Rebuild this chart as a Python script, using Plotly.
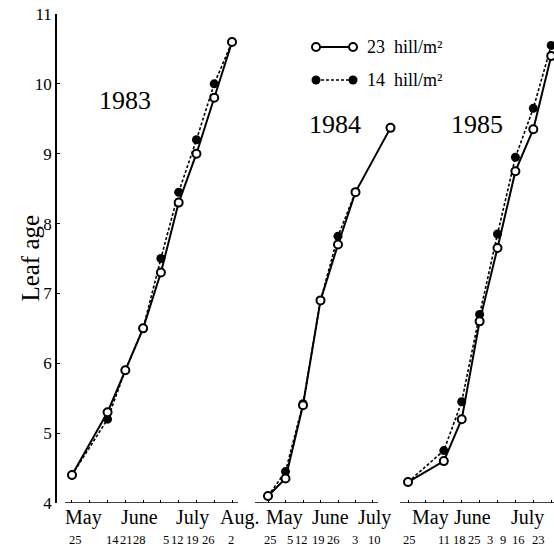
import plotly.graph_objects as go

# ---------------- data (x = weekly tick index of each panel) ----------------
years = ["1983", "1984", "1985"]

weeks_1983 = [0, 2, 3, 4, 5, 6, 7, 8, 9]
open_1983 = [4.4, 5.3, 5.9, 6.5, 7.3, 8.3, 9.0, 9.8, 10.6]
filled_1983 = [4.4, 5.2, 5.9, 6.5, 7.5, 8.45, 9.2, 10.0, 10.6]

weeks_1984 = [0, 1, 2, 3, 4, 5, 7]
open_1984 = [4.1, 4.35, 5.4, 6.9, 7.7, 8.45, 9.37]
weeks_1984_f = [0, 1, 2, 3, 4, 5]
filled_1984 = [4.1, 4.45, 5.42, 6.9, 7.82, 8.45]

weeks_1985 = [0, 2, 3, 4, 5, 6, 7, 8]
open_1985 = [4.3, 4.6, 5.2, 6.6, 7.65, 8.75, 9.35, 10.4]
filled_1985 = [4.3, 4.75, 5.45, 6.7, 7.85, 8.95, 9.65, 10.55]

ticks_1983 = list(range(10))
ticks_1984 = list(range(7))
ticks_1985 = list(range(9))

days_1983 = ["25", "14", "21", "28", "5", "12", "19", "26", "2"]
days_1984 = ["25", "5", "12", "19", "26", "3", "10"]
days_1985 = ["25", "11", "18", "25", "3", "9", "16", "23"]
months_1983 = ["May", "June", "July", "Aug."]
months_1984 = ["May", "June", "July"]
months_1985 = ["May", "June", "July"]

y_ticks = [4, 5, 6, 7, 8, 9, 10, 11]
series_names = ["23  hill/m²", "14  hill/m²"]

# ---------------- layout helpers (positions on each axis, in week units) ----------------
day_pos = [
    [0.22, 2.28, 3.04, 3.82, 5.26, 5.93, 6.78, 7.7, 8.94],
    [0.17, 1.26, 1.9, 2.86, 3.77, 4.97, 6.06],
    [0.1, 2.0, 2.85, 3.7, 4.6, 5.3, 6.2, 7.3],
]
month_pos = [
    [0.65, 3.8, 6.78, 9.4],
    [0.97, 3.57, 6.06],
    [1.23, 3.6, 6.68],
]
domains = [[0.01807, 0.36546], [0.3996, 0.6767], [0.6908, 1.0]]
ranges = [[-0.394, 9.337], [-0.743, 7.143], [-0.447, 8.156]]
base_end = [9.337, 6.286, 8.156]
year_pos = [(2.98, 9.76), (3.83, 9.42), (3.85, 9.42)]


def to_paper(i, w):
    d0, d1 = domains[i]
    r0, r1 = ranges[i]
    return d0 + (w - r0) / (r1 - r0) * (d1 - d0)


FONT = "Liberation Serif"
panels = [
    dict(wo=weeks_1983, yo=open_1983, wf=weeks_1983, yf=filled_1983,
         ticks=ticks_1983, days=days_1983, months=months_1983),
    dict(wo=weeks_1984, yo=open_1984, wf=weeks_1984_f, yf=filled_1984,
         ticks=ticks_1984, days=days_1984, months=months_1984),
    dict(wo=weeks_1985, yo=open_1985, wf=weeks_1985, yf=filled_1985,
         ticks=ticks_1985, days=days_1985, months=months_1985),
]

DASH = "3px,2px"
fig = go.Figure()
annotations = []
shapes = []
for i, p in enumerate(panels):
    xa = "x" if i == 0 else f"x{i+1}"
    fig.add_trace(go.Scatter(
        x=p["wf"], y=p["yf"], xaxis=xa, yaxis="y", mode="lines+markers",
        line=dict(color="black", width=1.6, dash=DASH),
        marker=dict(symbol="circle", size=9, color="black"),
        cliponaxis=False, showlegend=False))
    fig.add_trace(go.Scatter(
        x=p["wo"], y=p["yo"], xaxis=xa, yaxis="y", mode="lines+markers",
        line=dict(color="black", width=2),
        marker=dict(symbol="circle", size=8, color="white",
                    line=dict(color="black", width=2)),
        cliponaxis=False, showlegend=False))
    for d, xp in zip(p["days"], day_pos[i]):
        annotations.append(dict(x=to_paper(i, xp), y=0, xref="paper", yref="paper", text=d,
                                showarrow=False, xanchor="center", yanchor="middle",
                                yshift=-37,
                                font=dict(family=FONT, size=12.5, color="black")))
    for m, xp in zip(p["months"], month_pos[i]):
        annotations.append(dict(x=to_paper(i, xp), y=0, xref="paper", yref="paper", text=m,
                                showarrow=False, xanchor="center", yanchor="middle",
                                yshift=-14,
                                font=dict(family=FONT, size=20, color="black")))
    annotations.append(dict(x=year_pos[i][0], y=year_pos[i][1], xref=xa, yref="y",
                            text=years[i], showarrow=False,
                            xanchor="center", yanchor="middle",
                            font=dict(family=FONT, size=26, color="black")))
    shapes.append(dict(type="line", xref=xa, yref="y", x0=ranges[i][0], x1=base_end[i],
                       y0=4, y1=4, line=dict(color="black", width=1.5)))

# y-axis title
annotations.append(dict(x=-0.052, y=0.5, xref="paper", yref="paper", text="Leaf age",
                        textangle=-90, showarrow=False, xanchor="center", yanchor="middle",
                        font=dict(family=FONT, size=25, color="black")))

# legend drawn on an invisible pixel-like overlay axis
leg_rows = [47, 80]
leg_x = [316, 353]
fig.add_trace(go.Scatter(
    x=leg_x, y=[leg_rows[0]] * 2, xaxis="x4", yaxis="y4", mode="lines+markers",
    line=dict(color="black", width=2),
    marker=dict(symbol="circle", size=8, color="white", line=dict(color="black", width=2)),
    showlegend=False, hoverinfo="skip"))
fig.add_trace(go.Scatter(
    x=leg_x, y=[leg_rows[1]] * 2, xaxis="x4", yaxis="y4", mode="lines+markers",
    line=dict(color="black", width=1.6, dash=DASH),
    marker=dict(symbol="circle", size=9, color="black"),
    showlegend=False, hoverinfo="skip"))
for name, ry in zip(series_names, leg_rows):
    annotations.append(dict(x=365, y=ry, xref="x4", yref="y4", text=name,
                            showarrow=False, xanchor="left", yanchor="middle",
                            font=dict(family=FONT, size=18, color="black")))

xcommon = dict(showgrid=False, zeroline=False, showline=False, ticks="inside",
               ticklen=3, tickwidth=1, tickcolor="black", showticklabels=False,
               anchor="y")
layout = dict(
    width=554, height=552,
    margin=dict(l=56, r=0, t=14, b=49),
    paper_bgcolor="white", plot_bgcolor="rgba(0,0,0,0)",
    font=dict(family=FONT, color="black"),
    yaxis=dict(range=[4, 11], tickvals=y_ticks, anchor="free", position=0,
               showline=True, linewidth=1.5, linecolor="black", ticks="inside",
               ticklen=3, tickcolor="black", showgrid=False, zeroline=False,
               tickfont=dict(family=FONT, size=17, color="black")),
    xaxis4=dict(domain=[0, 1], range=[56, 554], visible=False, anchor="y4"),
    yaxis4=dict(domain=[0, 1], range=[503, 14], visible=False, anchor="x4"),
    annotations=annotations,
    shapes=shapes,
    showlegend=False,
)
for i in range(3):
    key = "xaxis" if i == 0 else f"xaxis{i+1}"
    layout[key] = dict(domain=domains[i], range=ranges[i],
                       tickvals=panels[i]["ticks"], **xcommon)
fig.update_layout(**layout)

fig.write_html("out.html", config={"displayModeBar": False},
               post_script="document.body.style.margin='0';")
